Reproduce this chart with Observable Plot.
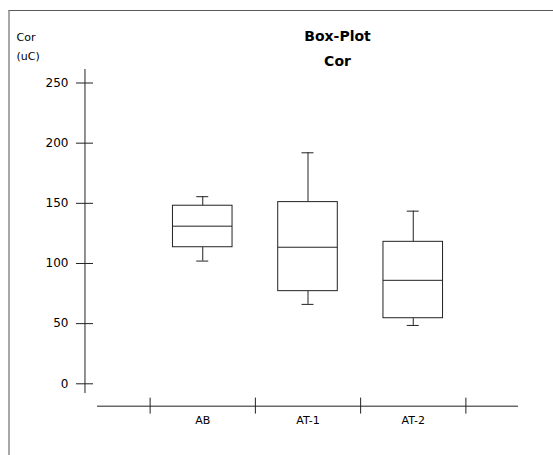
<!DOCTYPE html>
<html>
<head>
<meta charset="utf-8">
<script src="https://cdn.jsdelivr.net/npm/d3@7"></script>
<script src="https://cdn.jsdelivr.net/npm/@observablehq/plot@0.6"></script>
<style>
  html, body { margin: 0; padding: 0; background: #fff; }
  #wrap { position: relative; width: 553px; height: 455px; overflow: hidden; }
  #frame { position: absolute; left: 8px; top: 10px; width: 560px; height: 460px;
           border-top: 1px solid #5a5a5a; border-left: 2px solid #a8a8a8; box-sizing: border-box; }
  #chart { position: absolute; left: 0; top: 0; }
</style>
</head>
<body>
<div id="wrap"><div id="frame"></div><div id="chart"></div></div>
<script>
// ---- data ----
const categories = ["AB", "AT-1", "AT-2"];
const mins    = [102,   66,   48.5];
const q1s     = [113.5, 77,   54.5];
const medians = [131,   113.5, 86];
const q3s     = [148,   151,  118];
const maxs    = [155.5, 192,  143.5];
const yTicks  = [0, 50, 100, 150, 200, 250];
const title = "Box-Plot";
const subtitle = "Cor";
const yLabel = ["Cor", "(uC)"];

// ---- table for the library ----
const stats = categories.map((c, i) => ({
  cat: c, pos: i + 1, min: mins[i], q1: q1s[i], med: medians[i], q3: q3s[i], max: maxs[i]
}));
const edges = d3.range(categories.length + 1).map(i => i + 0.5);

// ---- layout (in scale units) ----
const BOX_HALF = 0.283, CAP_HALF = 0.057;
const Y_AXIS_X = -0.119, Y_TICK_X1 = -0.2, Y_TICK_X2 = -0.038;
const Y_AXIS_LO = -8.1, Y_AXIS_HI = 261.2;
const X_AXIS_Y = -18.6, X_TICK_Y1 = -11.9, X_TICK_Y2 = -25.2;
const X_AXIS_LO = 0, X_AXIS_HI = categories.length + 1;
const ink = "#222";

const plot = Plot.plot({
  width: 553,
  height: 455,
  margin: 0,
  style: { fontFamily: "DejaVu Sans", fontSize: "11px", background: "transparent", color: "#000" },
  x: { type: "linear", domain: [0, categories.length + 1], range: [97, 518], axis: null },
  y: { type: "linear", domain: [0, 250], range: [383.3, 82.5], axis: null },
  marks: [
    // y axis
    Plot.ruleX([Y_AXIS_X], { x: d => d, y1: () => Y_AXIS_LO, y2: () => Y_AXIS_HI, stroke: ink }),
    Plot.ruleY(yTicks, { y: d => d, x1: () => Y_TICK_X1, x2: () => Y_TICK_X2, stroke: ink }),
    Plot.text(yTicks, { y: d => d, x: () => Y_TICK_X1, dx: -8, text: d => String(d),
      textAnchor: "end", lineAnchor: "middle", fontSize: 12 }),
    // x axis
    Plot.ruleY([X_AXIS_Y], { y: d => d, x1: () => X_AXIS_LO, x2: () => X_AXIS_HI, stroke: ink }),
    Plot.ruleX(edges, { x: d => d, y1: () => X_TICK_Y1, y2: () => X_TICK_Y2, stroke: ink }),
    Plot.text(stats, { x: "pos", y: () => X_AXIS_Y, dy: 18.3, text: "cat",
      textAnchor: "middle", lineAnchor: "bottom", fontSize: 11 }),
    // whiskers
    Plot.ruleX(stats, { x: "pos", y1: "q3", y2: "max", stroke: ink }),
    Plot.ruleX(stats, { x: "pos", y1: "min", y2: "q1", stroke: ink }),
    Plot.ruleY(stats, { y: "max", x1: d => d.pos - CAP_HALF, x2: d => d.pos + CAP_HALF, stroke: ink }),
    Plot.ruleY(stats, { y: "min", x1: d => d.pos - CAP_HALF, x2: d => d.pos + CAP_HALF, stroke: ink }),
    // boxes
    Plot.rect(stats, { x1: d => d.pos - BOX_HALF, x2: d => d.pos + BOX_HALF, y1: "q1", y2: "q3",
      fill: "white", stroke: ink }),
    Plot.ruleY(stats, { y: "med", x1: d => d.pos - BOX_HALF, x2: d => d.pos + BOX_HALF, stroke: ink }),
    // titles
    Plot.text([title], { frameAnchor: "top-left", dx: 337, dy: 40, text: d => d,
      textAnchor: "middle", lineAnchor: "bottom", fontSize: 14, fontWeight: "bold" }),
    Plot.text([subtitle], { frameAnchor: "top-left", dx: 337, dy: 65, text: d => d,
      textAnchor: "middle", lineAnchor: "bottom", fontSize: 14, fontWeight: "bold" }),
    Plot.text([yLabel[0]], { frameAnchor: "top-left", dx: 16, dy: 40, text: d => d,
      textAnchor: "start", lineAnchor: "bottom", fontSize: 11 }),
    Plot.text([yLabel[1]], { frameAnchor: "top-left", dx: 16, dy: 59, text: d => d,
      textAnchor: "start", lineAnchor: "bottom", fontSize: 11 })
  ]
});
document.getElementById("chart").appendChild(plot);
</script>
</body>
</html>
